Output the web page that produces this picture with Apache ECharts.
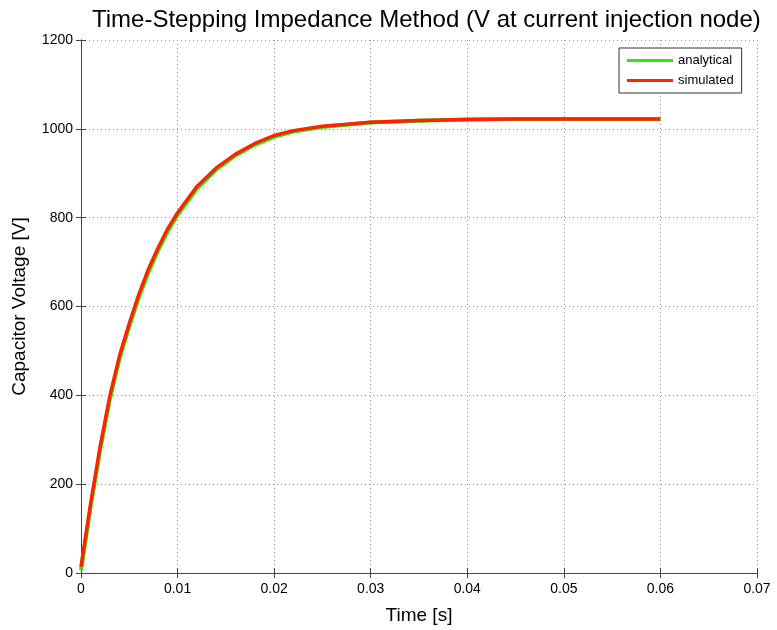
<!DOCTYPE html>
<html>
<head>
<meta charset="utf-8">
<script src="https://cdn.jsdelivr.net/npm/echarts@6/dist/echarts.min.js"></script>
<style>html,body{margin:0;padding:0;background:#fff;}#c{width:777px;height:630px;}</style>
</head>
<body>
<div id="c"></div>
<script>
var timeValues = [0, 0.001, 0.002, 0.003, 0.004, 0.005, 0.006, 0.007, 0.008, 0.009, 0.01, 0.012, 0.014, 0.016, 0.018, 0.02, 0.022, 0.025, 0.03, 0.035, 0.04, 0.045, 0.05, 0.055, 0.06];
var analyticalValues = [6, 150, 279, 393, 483, 555, 621, 678, 727, 770, 806, 865, 908, 940, 964, 982, 994, 1004, 1014, 1018, 1021, 1022, 1022, 1022, 1022];
var simulatedValues = [14, 157, 287, 400, 490, 562, 628, 685, 733, 776, 811, 870, 912, 943, 967, 985, 996, 1006, 1015, 1019, 1021, 1022, 1022, 1022, 1022];
var xTicks = [0, 0.01, 0.02, 0.03, 0.04, 0.05, 0.06, 0.07];
var yTicks = [0, 200, 400, 600, 800, 1000, 1200];

function pairs(xs, ys) { return xs.map(function (x, i) { return [x, ys[i]]; }); }

var font = 'Liberation Sans, Arial, Helvetica, sans-serif';
var chart = echarts.init(document.getElementById('c'));
var axisCommon = {
  axisLine: { show: true, lineStyle: { color: '#444', width: 1 } },
  axisTick: { show: true, inside: true, length: 5, lineStyle: { color: '#444' } }
};
chart.setOption({
  animation: false,
  backgroundColor: '#fff',
  title: {
    text: 'Time-Stepping Impedance Method (V at current injection node)',
    left: 87, top: 3,
    textStyle: { fontFamily: font, fontSize: 24, fontWeight: 'normal', color: '#000' }
  },
  legend: {
    orient: 'vertical', left: 619, top: 48,
    backgroundColor: '#fff', borderColor: '#333', borderWidth: 1, borderRadius: 0,
    padding: [6, 8, 6, 8], itemGap: 7,
    itemWidth: 46, itemHeight: 3, icon: 'rect',
    textStyle: { fontFamily: font, fontSize: 13, color: '#000' },
    data: ['analytical', 'simulated']
  },
  grid: { left: 81, right: 20, top: 40, bottom: 57, containLabel: false },
  xAxis: [
    Object.assign({
      type: 'value', min: 0, max: 0.07, interval: 0.01,
      name: 'Time [s]', nameLocation: 'middle', nameGap: 33,
      nameTextStyle: { fontFamily: font, fontSize: 19, color: '#000' },
      axisLabel: { fontFamily: font, fontSize: 14, color: '#000', margin: 9,
        formatter: function (v) { return String(+v.toFixed(2)); } },
      splitLine: { show: true, lineStyle: { color: '#999', type: [1, 3], width: 1 } }
    }, axisCommon),
    Object.assign({
      type: 'value', position: 'top', min: 0, max: 0.07, interval: 0.01,
      axisLabel: { show: false }, splitLine: { show: false }
    }, axisCommon)
  ],
  yAxis: [
    Object.assign({
      type: 'value', min: 0, max: 1200, interval: 200,
      name: 'Capacitor Voltage [V]', nameLocation: 'middle', nameGap: 52,
      nameTextStyle: { fontFamily: font, fontSize: 19, color: '#000' },
      axisLabel: { fontFamily: font, fontSize: 14, color: '#000', margin: 8,
        formatter: function (v) { return String(v); } },
      splitLine: { show: true, lineStyle: { color: '#999', type: [1, 3], width: 1 } }
    }, axisCommon),
    Object.assign({
      type: 'value', position: 'right', min: 0, max: 1200, interval: 200,
      axisLabel: { show: false }, splitLine: { show: false }
    }, axisCommon)
  ],
  series: [
    { name: 'analytical', type: 'line', data: pairs(timeValues, analyticalValues),
      showSymbol: false, smooth: false,
      lineStyle: { color: '#22ee11', width: 4 }, itemStyle: { color: '#22ee11' } },
    { name: 'simulated', type: 'line', data: pairs(timeValues, simulatedValues),
      showSymbol: false, smooth: false,
      lineStyle: { color: '#ff2200', width: 3.5 }, itemStyle: { color: '#ff2200' } }
  ]
});
</script>
</body>
</html>
